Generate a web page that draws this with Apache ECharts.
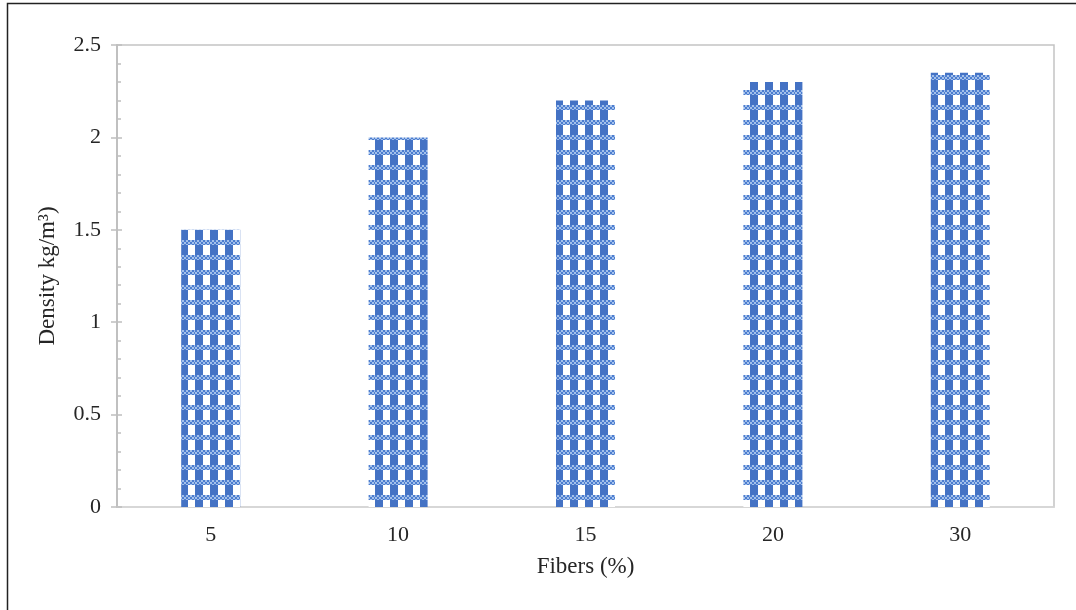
<!DOCTYPE html>
<html>
<head>
<meta charset="utf-8">
<script src="https://cdn.jsdelivr.net/npm/echarts@6/dist/echarts.min.js"></script>
<style>
html,body{margin:0;padding:0;background:#fff;}
#chart{width:1076px;height:610px;}
</style>
</head>
<body>
<div id="chart"></div>
<script>
const categories = ['5', '10', '15', '20', '30'];
const density = [1.5, 2.0, 2.2, 2.3, 2.35];
const xAxisTitle = 'Fibers (%)';
const yAxisTitle = 'Density kg/m\u00B3)';

function makePattern() {
  const c = document.createElement('canvas');
  c.width = 15; c.height = 15;
  const g = c.getContext('2d');
  g.fillStyle = '#ffffff';
  g.fillRect(0, 0, 15, 15);
  g.fillStyle = '#4472C4';
  g.fillRect(0, 0, 8, 15);
  for (let y = 0; y < 5; y++) {
    for (let x = 0; x < 15; x++) {
      g.fillStyle = ((Math.floor(x / 2) + Math.floor(y / 2)) % 2 === 0) ? '#4C7DD0' : '#A3C0EA';
      g.fillRect(x, y, 1, 1);
    }
  }
  return c;
}

const chart = echarts.init(document.getElementById('chart'), null, {renderer: 'canvas'});
const font = 'Liberation Serif, Times New Roman, serif';
const yBase = {
  type: 'value', min: 0, max: 2.5, interval: 0.5,
  splitLine: {show: false},
  axisLine: {show: true, lineStyle: {color: '#BFBFBF', width: 1.5}}
};
chart.setOption({
  animation: false,
  backgroundColor: '#ffffff',
  grid: {left: 117, right: 22, top: 45, bottom: 103, show: true, borderColor: '#C3C3C3', borderWidth: 1.5, backgroundColor: 'transparent'},
  graphic: [
    {type: 'polyline', shape: {points: [[7.5, 610], [7.5, 3.5], [1076, 3.5]]}, style: {stroke: '#222', lineWidth: 1.5, fill: null}}
  ],
  xAxis: {
    type: 'category', data: categories,
    name: xAxisTitle, nameLocation: 'middle', nameGap: 48,
    nameTextStyle: {fontFamily: font, fontSize: 23, color: '#262626'},
    axisLine: {show: true, lineStyle: {color: '#D9D9D9', width: 1.5}},
    axisTick: {show: false},
    axisLabel: {fontFamily: font, fontSize: 22, color: '#262626', margin: 17}
  },
  yAxis: [
    Object.assign({}, yBase, {
      name: yAxisTitle, nameLocation: 'middle', nameGap: 58,
      nameTextStyle: {fontFamily: font, fontSize: 23, color: '#262626'},
      axisTick: {show: true, inside: false, length: 6, lineStyle: {color: '#BFBFBF', width: 1.5}},
      axisLabel: {fontFamily: font, fontSize: 22, color: '#262626', margin: 16}
    }),
    Object.assign({}, yBase, {
      position: 'left', offset: 0,
      axisTick: {show: true, inside: true, length: 5, lineStyle: {color: '#BFBFBF', width: 1.5}},
      minorTick: {show: true, splitNumber: 5, length: 4, lineStyle: {color: '#BFBFBF', width: 1.5}},
      axisLabel: {show: false}
    })
  ],
  series: [{
    type: 'bar', data: density, barWidth: 59,
    itemStyle: {color: {image: makePattern(), repeat: 'repeat'}}
  }]
});
</script>
</body>
</html>
